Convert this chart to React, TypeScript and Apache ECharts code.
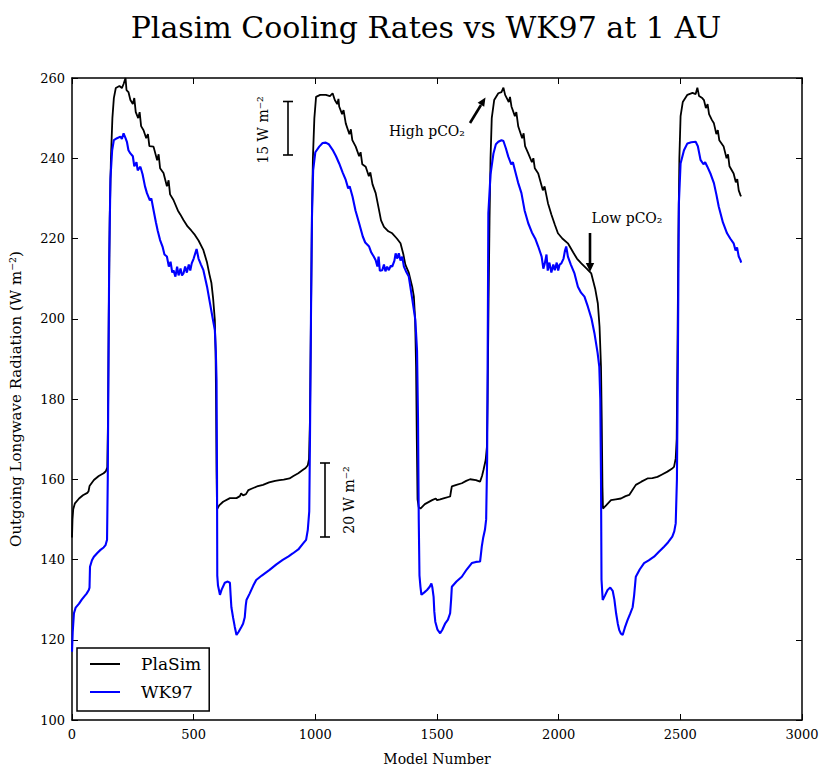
import React, { useEffect, useRef } from "react";
import * as echarts from "echarts";

// ---- Data (model number, OLR W m^-2) ----
const xTicks = [0, 500, 1000, 1500, 2000, 2500, 3000];
const yTicks = [100, 120, 140, 160, 180, 200, 220, 240, 260];

const plasimCycle1: number[][] = [
  [0, 145.5], [2, 150], [5, 152.5], [12, 154], [29, 155.2], [45, 156], [63, 156.6], [68, 157], [72, 158.3],
  [90, 159.8], [110, 160.8], [130, 161.5], [139, 162], [145, 163], [148, 175], [151, 200], [155, 225],
  [160, 240], [166, 250], [172, 255], [180, 257.5], [195, 258], [205, 257.5], [212, 258.5], [220, 260],
  [224, 257], [232, 256.5], [240, 254.5], [250, 253.5], [256, 255], [262, 251.5], [272, 250], [278, 251.5],
  [284, 248], [294, 247], [305, 245], [312, 246], [318, 243], [335, 242.9], [350, 239.5], [356, 241],
  [362, 237.5], [376, 236.3], [390, 233], [397, 234.5], [403, 231], [417, 229.6], [435, 227], [445, 226],
  [458, 224.6], [475, 223], [490, 222], [505, 220.9], [520, 219.5], [540, 217.1], [555, 214], [565, 211],
  [573, 208.9], [580, 205], [587, 199.7], [590, 192], [592, 180], [594, 162], [596, 152.5],
];
const plasimCycle2: number[][] = [
  [605, 153.5], [621, 154.4], [649, 155.3], [676, 155.3], [690, 155.8], [695, 156.5], [703, 156],
  [715, 156.3], [725, 157.3], [740, 157.7], [760, 158.2], [785, 158.6], [810, 159.2], [835, 159.6],
  [853, 159.8], [870, 159.9], [894, 160.2], [910, 160.8], [930, 161.5], [948, 162.3], [960, 162.8],
  [969, 163.5], [974, 165], [978, 175], [982, 200], [986, 225], [990, 240], [996, 250], [1003, 255.3],
  [1020, 255.8], [1043, 255.8], [1060, 255.5], [1071, 256.2], [1080, 254.5], [1090, 253.5], [1095, 254.8],
  [1098, 252.9], [1110, 251], [1116, 252], [1125, 248.7], [1140, 246], [1146, 247.2], [1152, 244.5],
  [1166, 242.9], [1180, 240.5], [1186, 241.5], [1193, 238.5], [1207, 237.9], [1220, 235.5], [1226, 236.5],
  [1235, 233.5], [1248, 231.3], [1262, 227], [1270, 224.5], [1282, 222.9], [1300, 221.8], [1316, 221.3],
  [1335, 220], [1350, 218.8], [1362, 216], [1370, 213.5], [1384, 211.5], [1398, 208], [1405, 205.5],
  [1410, 200], [1414, 188], [1417, 170], [1420, 155], [1425, 153],
];
const plasimCycle3: number[][] = [
  [1432, 152.7], [1450, 153.8], [1480, 154.8], [1495, 155.2], [1500, 154.8], [1513, 155], [1530, 155.3],
  [1554, 155.7], [1558, 157.2], [1561, 158.2], [1580, 158.6], [1602, 159], [1620, 159.6], [1636, 160],
  [1660, 159.8], [1677, 159.4], [1685, 160.8], [1691, 162.3], [1700, 164.8], [1705, 168], [1708, 180],
  [1712, 205], [1716, 225], [1720, 240], [1725, 250], [1735, 254.5], [1752, 256.2], [1765, 256.5],
  [1773, 257.6], [1780, 255.8], [1795, 254], [1800, 255.3], [1806, 252.9], [1820, 250.5], [1826, 251.5],
  [1834, 247.9], [1850, 245], [1856, 246.2], [1862, 243], [1875, 241.2], [1890, 239], [1896, 240],
  [1902, 237.5], [1916, 236.2], [1935, 232], [1942, 233], [1956, 228.8], [1970, 226], [1984, 223.5],
  [1997, 221.3], [2015, 220], [2038, 218.8], [2060, 216.5], [2075, 215], [2093, 213.8], [2115, 212.5],
  [2134, 211.3], [2150, 207.5], [2161, 203.8], [2168, 198], [2174, 188], [2177, 175], [2180, 158],
  [2182, 152.7],
];
const plasimCycle4: number[][] = [
  [2195, 153.5], [2215, 154.8], [2235, 155], [2256, 155.2], [2275, 155.8], [2290, 156.1], [2300, 157],
  [2317, 158.6], [2340, 159.4], [2365, 160.2], [2385, 160.3], [2406, 160.6], [2425, 161.2], [2447, 161.9],
  [2465, 162.6], [2474, 163.1], [2481, 165.2], [2485, 170], [2488, 190], [2492, 220], [2496, 240],
  [2501, 250.5], [2510, 254], [2529, 255.8], [2550, 256.3], [2563, 256], [2570, 257.6], [2577, 255.5],
  [2590, 255], [2597, 254.5], [2605, 252.5], [2612, 253.5], [2618, 251], [2630, 249.5], [2638, 248.7],
  [2648, 246], [2654, 247], [2660, 244.5], [2678, 242.9], [2690, 240], [2696, 241], [2702, 238],
  [2719, 236.2], [2728, 234], [2734, 234.8], [2740, 232], [2747, 230.8], [2750, 230.5],
];

const wk97Cycle1: number[][] = [
  [0, 117], [3, 122], [8, 126.6], [15, 128], [29, 129], [40, 130], [49, 130.7], [60, 131.5], [69, 132.4],
  [72, 133], [74, 138.2], [82, 139.8], [90, 140.7], [105, 141.7], [117, 142.4], [130, 143], [138, 143.6],
  [144, 144.9], [147, 160], [150, 190], [153, 215], [158, 235], [165, 242], [172, 244.5], [185, 245],
  [199, 245.4], [205, 244.8], [212, 246.2], [220, 245], [226, 244], [232, 242], [240, 241.2], [250, 240.5],
  [256, 238], [265, 239], [270, 237], [281, 237.9], [290, 236], [300, 233], [308, 231.3], [320, 229.5],
  [326, 230], [335, 227.1], [345, 224], [352, 222], [362, 219.6], [372, 218], [380, 216], [390, 215.5],
  [398, 213], [405, 214.2], [412, 211.5], [417, 212.1], [425, 210.5], [432, 213], [438, 210.8], [446, 212.5],
  [452, 210.8], [458, 211.3], [465, 213], [472, 211.5], [480, 213.5], [486, 212], [492, 213.8], [500, 215],
  [506, 216.2], [512, 217.4], [520, 215], [530, 213.5], [540, 212.1], [555, 208], [567, 203.9], [580, 199.5],
  [587, 197.2], [591, 192], [594, 184.7], [596, 160], [597, 136],
];
const wk97Cycle2: number[][] = [
  [600, 133.5], [608, 131.2], [615, 132.5], [628, 134.2], [640, 134.5], [649, 134.2], [652, 131],
  [655, 128.1], [662, 125.5], [669, 123.2], [676, 121.2], [685, 122], [696, 123.2], [703, 124], [710, 125.6],
  [714, 128.5], [717, 129.9], [730, 131.5], [745, 133.5], [757, 134.9], [780, 136], [812, 137.4],
  [840, 138.8], [866, 139.9], [890, 140.8], [907, 141.5], [930, 142.5], [950, 144], [962, 144.9],
  [969, 147.4], [975, 152], [978, 170], [982, 200], [986, 225], [991, 237], [1000, 241.5], [1016, 242.9],
  [1030, 243.8], [1043, 243.9], [1055, 243.5], [1071, 242.1], [1085, 240.5], [1098, 238.7], [1112, 236.5],
  [1125, 234.6], [1135, 232.5], [1141, 233], [1153, 230.4], [1165, 227], [1180, 223.8], [1195, 220.5],
  [1205, 219], [1221, 218], [1230, 216.5], [1240, 215.5], [1248, 214.6], [1255, 213], [1260, 215.5],
  [1265, 212], [1275, 212.1], [1282, 213.5], [1288, 211.8], [1295, 213], [1302, 212.1], [1310, 213.2],
  [1316, 213], [1325, 214.5], [1330, 216.3], [1336, 215], [1343, 216.3], [1350, 214.5], [1357, 215.5],
  [1364, 213], [1375, 211.5], [1384, 210.5], [1398, 205], [1411, 199.7], [1418, 192], [1422, 175],
  [1425, 150], [1428, 136],
];
const wk97Cycle3: number[][] = [
  [1432, 133.2], [1436, 131.2], [1448, 131.8], [1459, 132.4], [1470, 133.2], [1477, 134], [1481, 133],
  [1486, 130.7], [1489, 127], [1493, 124.5], [1502, 122.5], [1513, 121.6], [1522, 122.5], [1534, 124.1],
  [1545, 125], [1554, 126.6], [1558, 130], [1561, 133.2], [1580, 134.5], [1602, 135.7], [1622, 137.5],
  [1643, 139.1], [1660, 139.4], [1677, 139.5], [1680, 141], [1684, 143.2], [1690, 145.5], [1697, 147.4],
  [1702, 150], [1706, 165], [1709, 200], [1711, 226.3], [1720, 236], [1732, 241.2], [1742, 243.5],
  [1752, 244.1], [1765, 244.5], [1773, 244.3], [1783, 242.5], [1793, 240.4], [1805, 238.5], [1812, 239],
  [1820, 237.1], [1833, 234], [1847, 231.3], [1860, 227], [1875, 223.8], [1890, 221.5], [1905, 219.8],
  [1916, 218], [1930, 215.5], [1937, 212.5], [1943, 213.8], [1950, 216], [1955, 212], [1962, 214],
  [1970, 211.5], [1978, 213.5], [1984, 212.1], [1992, 214], [1998, 212], [2004, 213.5], [2011, 213.8],
  [2020, 215], [2026, 217], [2031, 218], [2038, 215.5], [2050, 213.5], [2065, 211.3], [2079, 208],
  [2092, 206.5], [2106, 205.5], [2120, 203], [2135, 200], [2147, 196.4], [2160, 191.5], [2167, 188],
  [2171, 180], [2174, 160], [2176, 135],
];
const wk97Cycle4: number[][] = [
  [2181, 129.9], [2190, 131], [2201, 132.4], [2212, 133], [2222, 132.2], [2229, 130], [2236, 126.6],
  [2243, 124], [2249, 122.4], [2256, 121.5], [2263, 121.2], [2272, 123], [2283, 124.9], [2294, 126.5],
  [2304, 128.1], [2310, 131], [2317, 135.7], [2333, 137.5], [2351, 139.1], [2370, 139.8], [2392, 140.7],
  [2410, 141.8], [2433, 143.2], [2450, 144.3], [2467, 145.7], [2475, 147], [2481, 149], [2486, 160],
  [2490, 190], [2494, 228.8], [2501, 238.7], [2515, 242], [2529, 243.7], [2545, 244], [2563, 244.1],
  [2572, 243], [2583, 239.6], [2595, 238.5], [2602, 239], [2611, 237.9], [2625, 236], [2638, 233.8],
  [2648, 231], [2658, 227.9], [2675, 224], [2692, 221.3], [2705, 220], [2719, 218.8], [2727, 217],
  [2733, 217.8], [2740, 215.5], [2747, 214.6], [2750, 214],
];

const seriesNames = ["PlaSim", "WK97"];
const FONT = "DejaVu Serif";

export default function App() {
  const ref = useRef<HTMLDivElement>(null);
  useEffect(() => {
    if (!ref.current) return;
    const chart = echarts.init(ref.current, undefined, { renderer: "svg" });
    const plasim = [...plasimCycle1, ...plasimCycle2, ...plasimCycle3, ...plasimCycle4];
    const wk97 = [...wk97Cycle1, ...wk97Cycle2, ...wk97Cycle3, ...wk97Cycle4];
    const xMin = xTicks[0], xMax = xTicks[xTicks.length - 1];
    const yMin = yTicks[0], yMax = yTicks[yTicks.length - 1];
    const axisCommon = {
      axisLine: { show: true, onZero: false, lineStyle: { color: "#000", width: 1.5 } },
      axisTick: { show: true, inside: true, length: 6, lineStyle: { color: "#000", width: 1 } },
      splitLine: { show: false },
    };
    const arrowLine = { stroke: "#000", lineWidth: 2.6 };
    chart.setOption({
      animation: false,
      backgroundColor: "#fff",
      title: {
        text: "Plasim Cooling Rates vs WK97 at 1 AU",
        left: 421,
        textAlign: "center",
        top: 7,
        textStyle: { fontFamily: FONT, fontSize: 30, fontWeight: "normal", color: "#000" },
      },
      grid: { left: 68, right: 28, top: 78, bottom: 58, containLabel: false },
      xAxis: [
        {
          type: "value", min: xMin, max: xMax, interval: 500, position: "bottom",
          name: "Model Number", nameLocation: "middle", nameGap: 32,
          nameTextStyle: { fontFamily: FONT, fontSize: 14, color: "#000" },
          axisLabel: { fontFamily: FONT, fontSize: 13, color: "#000", margin: 8, formatter: (v: number) => String(v) },
          ...axisCommon,
        },
        {
          type: "value", min: xMin, max: xMax, interval: 500, position: "top",
          axisLabel: { show: false }, ...axisCommon,
        },
      ],
      yAxis: [
        {
          type: "value", min: yMin, max: yMax, interval: 20, position: "left",
          name: "Outgoing Longwave Radiation (W m⁻²)", nameLocation: "middle", nameGap: 49,
          nameTextStyle: { fontFamily: FONT, fontSize: 15, color: "#000" },
          axisLabel: { fontFamily: FONT, fontSize: 13, color: "#000", margin: 7, formatter: (v: number) => String(v) },
          ...axisCommon,
        },
        {
          type: "value", min: yMin, max: yMax, interval: 20, position: "right",
          axisLabel: { show: false }, ...axisCommon,
        },
      ],
      legend: {
        data: seriesNames,
        orient: "vertical",
        left: 77,
        top: 648,
        icon: "rect",
        borderColor: "#000",
        borderWidth: 1.5,
        borderRadius: 0,
        backgroundColor: "#fff",
        padding: [6, 8, 9, 13],
        itemWidth: 30,
        itemHeight: 2,
        itemGap: 8,
        textStyle: { fontFamily: FONT, fontSize: 17, lineHeight: 20, color: "#000", padding: [0, 0, 0, 16] },
      },
      series: [
        {
          name: seriesNames[0], type: "line", data: plasim, symbol: "none", showSymbol: false,
          lineStyle: { color: "#000", width: 1.8 }, itemStyle: { color: "#000" }, z: 2,
        },
        {
          name: seriesNames[1], type: "line", data: wk97, symbol: "none", showSymbol: false,
          lineStyle: { color: "#0000ff", width: 2.1 }, itemStyle: { color: "#0000ff" }, z: 3,
        },
      ],
      graphic: [
        // 15 W m-2 scale bar
        { type: "line", shape: { x1: 288, y1: 101.5, x2: 288, y2: 155 }, style: { stroke: "#000", lineWidth: 1.6 } },
        { type: "line", shape: { x1: 283, y1: 101.5, x2: 293, y2: 101.5 }, style: { stroke: "#000", lineWidth: 1.6 } },
        { type: "line", shape: { x1: 283, y1: 155, x2: 293, y2: 155 }, style: { stroke: "#000", lineWidth: 1.6 } },
        {
          type: "text", x: 263, y: 130, rotation: Math.PI / 2,
          style: { text: "15 W m⁻²", fontFamily: FONT, fontSize: 14, fill: "#000", align: "center", verticalAlign: "middle" },
        },
        // 20 W m-2 scale bar
        { type: "line", shape: { x1: 325, y1: 463, x2: 325, y2: 537 }, style: { stroke: "#000", lineWidth: 1.6 } },
        { type: "line", shape: { x1: 320, y1: 463, x2: 330, y2: 463 }, style: { stroke: "#000", lineWidth: 1.6 } },
        { type: "line", shape: { x1: 320, y1: 537, x2: 330, y2: 537 }, style: { stroke: "#000", lineWidth: 1.6 } },
        {
          type: "text", x: 349, y: 500, rotation: Math.PI / 2,
          style: { text: "20 W m⁻²", fontFamily: FONT, fontSize: 14, fill: "#000", align: "center", verticalAlign: "middle" },
        },
        // High pCO2 annotation
        {
          type: "text", x: 427, y: 131,
          style: { text: "High pCO₂", fontFamily: FONT, fontSize: 14, fill: "#000", align: "center", verticalAlign: "middle" },
        },
        { type: "line", shape: { x1: 470, y1: 123, x2: 481, y2: 105 }, style: arrowLine },
        { type: "polygon", shape: { points: [[485.5, 97.5], [484.2, 106.8], [477.6, 102.8]] }, style: { fill: "#000" } },
        // Low pCO2 annotation
        {
          type: "text", x: 627, y: 218,
          style: { text: "Low pCO₂", fontFamily: FONT, fontSize: 14, fill: "#000", align: "center", verticalAlign: "middle" },
        },
        { type: "line", shape: { x1: 590, y1: 233, x2: 590, y2: 264 }, style: arrowLine },
        { type: "polygon", shape: { points: [[590, 272], [585.8, 263], [594.2, 263]] }, style: { fill: "#000" } },
      ],
    });
    return () => chart.dispose();
  }, []);
  return (
    <div
      ref={ref}
      style={{ position: "absolute", left: 0, top: 0, width: 830, height: 778, background: "#fff" }}
    />
  );
}
